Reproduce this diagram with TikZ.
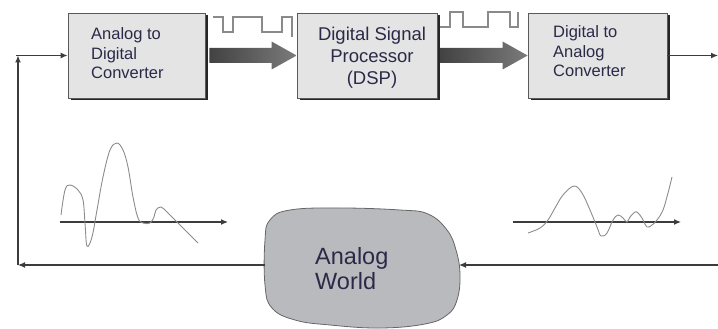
\documentclass[tikz,border=0pt]{standalone}
\usepackage{fontspec}
\setmainfont{Liberation Sans}
\usetikzlibrary{arrows.meta,calc,shadows}
\definecolor{txt}{HTML}{2A2A48}
\definecolor{boxfill}{HTML}{E4E4E4}
\definecolor{boxline}{HTML}{5A5A5A}
\definecolor{cloudfill}{HTML}{B9BABE}
\definecolor{linec}{HTML}{3C3C3C}
\definecolor{wavec}{HTML}{8C8C8C}
\definecolor{sqc}{HTML}{8A8A8A}
\newcommand\fatarrowdraw[2]{%
  \shade[fatarr] ($(#1)+(0,-7.5)$) -- ($(#2)+(-25,-7.5)$) -- ($(#2)+(-25,-14)$) -- (#2)
    -- ($(#2)+(-25,14)$) -- ($(#2)+(-25,7.5)$) -- ($(#1)+(0,7.5)$) -- cycle;}
\begin{document}
\begin{tikzpicture}[x=1pt,y=-1pt,
  blockbox/.style={draw=boxline, fill=boxfill, line width=0.8pt, minimum height=85pt, inner sep=0pt,
    drop shadow={shadow xshift=2.5pt, shadow yshift=-2.5pt, opacity=1, fill=black!85}},
  lbl/.style={text=txt, inner sep=0pt},
  conn/.style={draw=linec, line width=1.2pt, -{Latex[length=7pt,width=6pt]}},
  wave/.style={draw=wavec, line width=0.9pt},
  sqwave/.style={draw=sqc, line width=1.3pt},
  fatarr/.style={left color=black!74, right color=black!52},
]
\useasboundingbox (0,0) rectangle (718,329);

% blocks
\node[blockbox, minimum width=137pt] (adc) at (136.5,55.5) {};
\node[blockbox, minimum width=140pt] (dsp) at (367,55.5) {};
\node[blockbox, minimum width=139pt] (dac) at (597.5,55.5) {};

\node[lbl, anchor=base west, font=\fontsize{16.5}{19.5}\selectfont] (adct) at (91,40)
  {\begin{tabular}[t]{@{}l@{}}Analog to\\Digital\\Converter\end{tabular}};
\node[lbl, anchor=base, font=\fontsize{18.5}{22}\selectfont] (dspt) at (372,41)
  {\begin{tabular}[t]{@{}c@{}}Digital Signal\\Processor\\(DSP)\end{tabular}};
\node[lbl, anchor=base west, font=\fontsize{16.5}{19.5}\selectfont] (dact) at (553,38)
  {\begin{tabular}[t]{@{}l@{}}Digital to\\Analog\\Converter\end{tabular}};

% fat arrows
\coordinate (f1s) at ([xshift=4pt]adc.east);
\coordinate (f2s) at ([xshift=3pt]dsp.east);
\fatarrowdraw{f1s}{dsp.west}
\fatarrowdraw{f2s}{dac.west}

% square waves
\draw[sqwave] (213,17) -- (223,17) -- (223,32) -- (233,32) -- (233,17) -- (262,17) -- (262,32)
  -- (282,32) -- (282,17) -- (292,17) -- (292,37);
\draw[sqwave] (440,27) -- (450,27) -- (450,12) -- (463,12) -- (463,27) -- (488,27) -- (488,12)
  -- (510,12) -- (510,27) -- (518,27) -- (518,12);

% analog world
\fill[cloudfill] plot[smooth cycle, tension=0.7] coordinates {(265,240) (270,220) (290,210) (340,208) (400,210) (428,214) (447,230) (456,250) (460,275) (457,300) (447,315) (425,324) (380,328) (330,325) (295,320) (272,308) (265,285)};
\draw[black!60, line width=0.8pt] plot[smooth cycle, tension=0.7] coordinates {(265,240) (270,220) (290,210) (340,208) (400,210) (428,214) (447,230) (456,250) (460,275) (457,300) (447,315) (425,324) (380,328) (330,325) (295,320) (272,308) (265,285)};
\node[lbl, anchor=base west, font=\fontsize{23.5}{25}\selectfont] (world) at (315,264)
  {\begin{tabular}[t]{@{}l@{}}Analog\\World\end{tabular}};

% connector coordinates
\coordinate (cloudL) at (265,265);
\coordinate (cloudR) at (459,265);
\coordinate (cornerbl) at (18,265);
\coordinate (cornertl) at (18,55.5);
\coordinate (cornertlx) at (16,55.5);
\coordinate (outR) at (718,55.5);
\coordinate (inR) at (718,265);

\draw[conn] (cloudL) -- (cornerbl);
\draw[conn] (cornerbl) -- (cornertl);
\draw[conn] (cornertlx) -- (adc.west);
\draw[conn] (dac.east) -- (outR);
\draw[conn] (inR) -- (cloudR);

% signal plots
\coordinate (ax1s) at (60,222);
\coordinate (ax1e) at (228,222);
\coordinate (ax2s) at (513,222);
\coordinate (ax2e) at (681,222);
\draw[conn] (ax1s) -- (ax1e);
\draw[conn] (ax2s) -- (ax2e);

\draw[wave] plot[smooth, tension=0.6] coordinates {(61,215) (65,190) (70,185) (78,190) (83,200) (85,223) (87,246) (92,237) (97,210) (103,177) (110,150) (117,143) (123,150) (128,167) (133,197) (138,218) (143,223) (150,223) (154,217) (156,210) (161,207) (167,212) (177,222) (198,243)};
\draw[wave] plot[smooth, tension=0.6] coordinates {(528,233) (540,228) (548,220) (555,208) (563,195) (574,186) (582,193) (590,210) (597,227) (601,236) (607,233) (613,220) (618,215) (623,218) (627,222) (630,217) (635,212) (638,213) (642,218) (647,227) (652,225) (657,220) (663,210) (668,193) (672,177)};
\end{tikzpicture}
\end{document}
